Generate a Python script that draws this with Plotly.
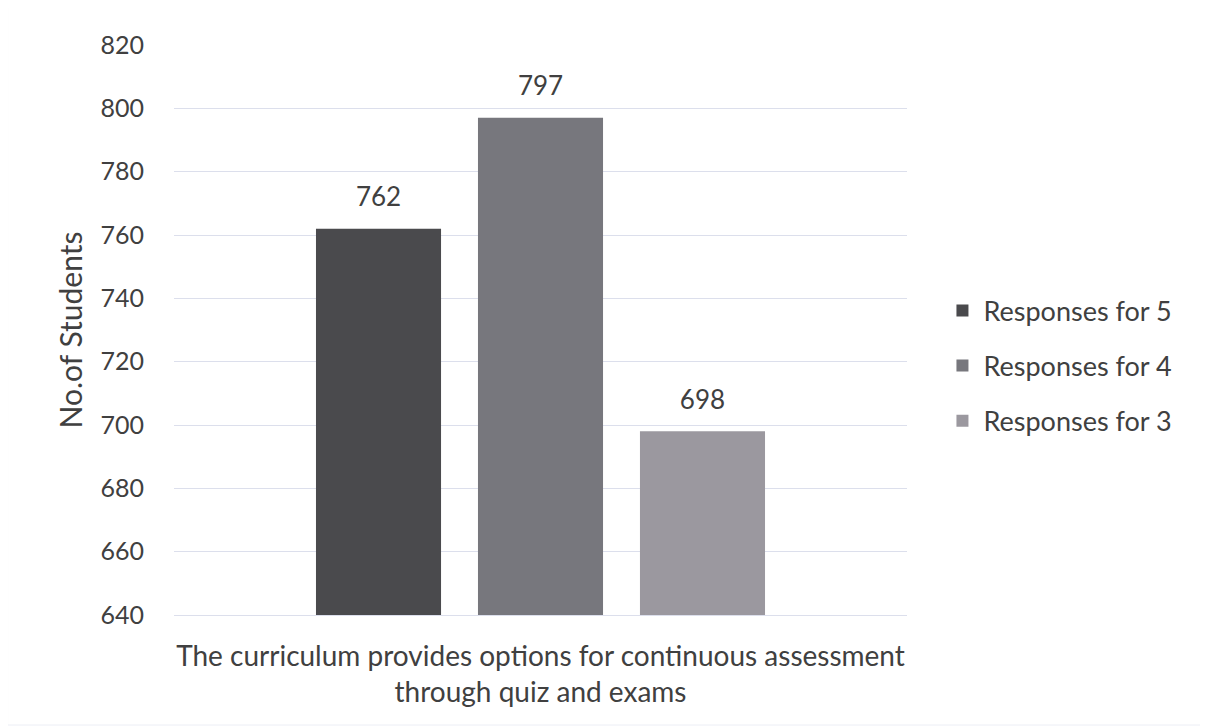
import plotly.graph_objects as go

categories = ["The curriculum provides options for continuous assessment<br>through quiz and exams"]
series_names = ["Responses for 5", "Responses for 4", "Responses for 3"]
resp5 = [762]
resp4 = [797]
resp3 = [698]
colors = ["#4a4a4d", "#77777d", "#9b989f"]
y_ticks = [640, 660, 680, 700, 720, 740, 760, 780, 800, 820]

font_family = "Lato, 'Open Sans', sans-serif"
txt_color = "#404040"
fig = go.Figure()
for i, (name, vals, col) in enumerate(zip(series_names, [resp5, resp4, resp3], colors)):
    fig.add_trace(go.Bar(
        x=categories, y=vals, name=name, marker=dict(color=col, line=dict(width=0)),
        offsetgroup=str(i), legendgroup=name,
    ))
for i, (name, vals) in enumerate(zip(series_names, [resp5, resp4, resp3])):
    fig.add_trace(go.Scatter(
        x=categories, y=vals, mode="markers+text", text=[str(v) for v in vals],
        textposition="top center", marker=dict(size=24, opacity=0),
        textfont=dict(size=26, color=txt_color, family=font_family),
        offsetgroup=str(i), showlegend=False, hoverinfo="skip", cliponaxis=False,
    ))

fig.update_layout(
    width=1200, height=719,
    margin=dict(l=166, r=301, t=37, b=112),
    paper_bgcolor="white", plot_bgcolor="white",
    barmode="group", bargap=0.337, bargroupgap=0.228,
    scattermode="group", scattergap=0.337,
    font=dict(family=font_family, color=txt_color, size=26),
    showlegend=True,
    legend=dict(x=1.047, y=0.437, xanchor="left", yanchor="middle",
                font=dict(size=27, color=txt_color, family=font_family),
                tracegroupgap=17, itemwidth=32),
    yaxis=dict(range=[640, 820], tickvals=y_ticks, showgrid=True,
               gridcolor="#dcdfec", gridwidth=1, zeroline=False,
               tickfont=dict(size=25, color=txt_color), ticks="", ticklen=0,
               ticklabelstandoff=29,
               title=dict(text="No.of Students", font=dict(size=30, color=txt_color), standoff=8),
               showline=False),
    xaxis=dict(showline=True, linecolor="#dcdfec", linewidth=1,
               tickfont=dict(size=28, color=txt_color), ticks="", ticklabelstandoff=16),
)
fig.add_shape(type="rect", xref="paper", yref="paper", x0=-0.227, x1=1.402, y0=-0.193, y1=1.070,
              line=dict(color="#eceef5", width=1))
fig.write_html("out.html")
